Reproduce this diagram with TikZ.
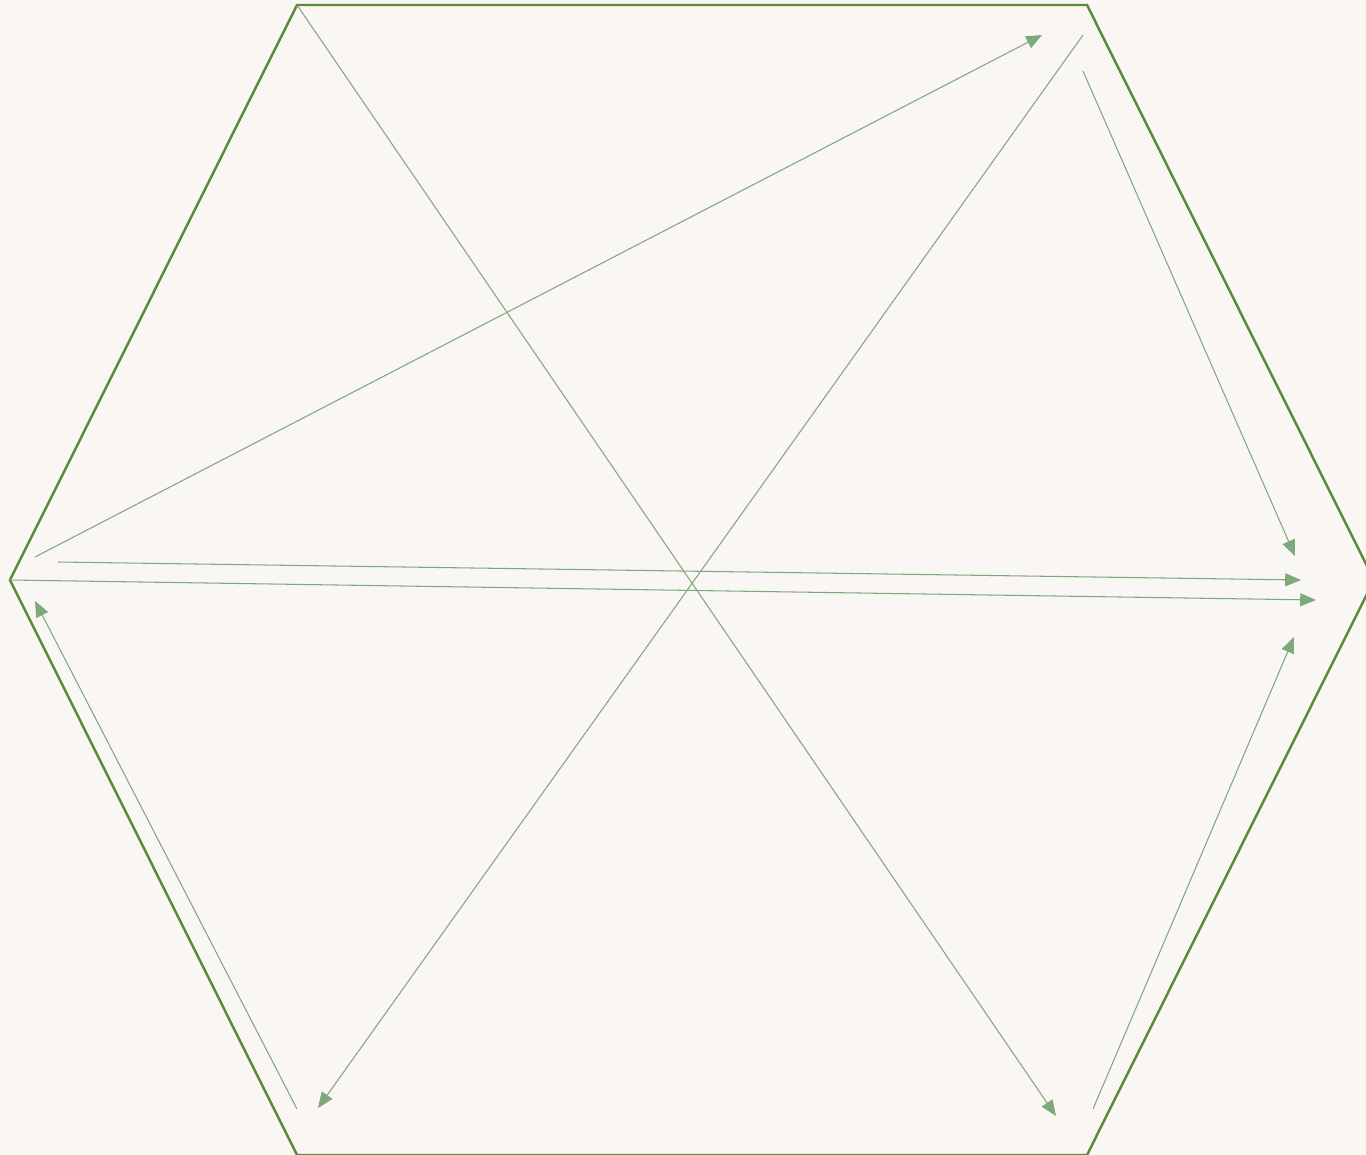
\documentclass[tikz,border=0pt]{standalone}
\usetikzlibrary{arrows.meta}
\definecolor{hexgreen}{HTML}{5A8A3A}
\definecolor{arrgreen}{HTML}{7EAA7B}
\definecolor{paper}{HTML}{FAF6F3}

\begin{document}
\begin{tikzpicture}[x=0.02cm,y=-0.02cm,
        hex/.style={draw=hexgreen,line width=1.4pt,line join=miter},
        arr/.style={-{Triangle[length=9pt,width=7.4pt]},arrgreen,line width=0.6pt}]
        \fill[paper](0,0) rectangle (1366,1155);
        \useasboundingbox (0,0) rectangle (1366,1155);
        \clip (0,0) rectangle (1366,1155);
        % hexagon corners
        \coordinate (hl) at (10,580);
        \coordinate (htl) at (297,5);
        \coordinate (htr) at (1087,5);
        \coordinate (hr) at (1374,580);
        \coordinate (hbr) at (1087,1155);
        \coordinate (hbl) at (297,1155);
        \draw[hex](hl)--(htl)--(htr)--(hr)--(hbr)--(hbl)--cycle;
        % arrow ends
        \coordinate (l1) at (35,557);
        \coordinate (l2) at (58,562);
        \coordinate (l3) at (35,601);
        \coordinate (t1) at (1042,35);
        \coordinate (t2) at (1083,35);
        \coordinate (t3) at (1083,71);
        \coordinate (r1) at (1295,556);
        \coordinate (r2) at (1301,580);
        \coordinate (r3) at (1316,600);
        \coordinate (r4) at (1294,637);
        \coordinate (b1) at (297,1109);
        \coordinate (b2) at (318,1108);
        \coordinate (b3) at (1056,1116);
        \coordinate (b4) at (1093,1109);
        \draw[arr](l1)--(t1);\draw[arr](t2)--(b2);\draw[arr](t3)--(r1);
        \draw[arr](l2)--(r2);\draw[arr](hl)--(r3);\draw[arr](htl)--(b3);
        \draw[arr](b1)--(l3);\draw[arr](b4)--(r4);
      \end{tikzpicture}
\end{document}
